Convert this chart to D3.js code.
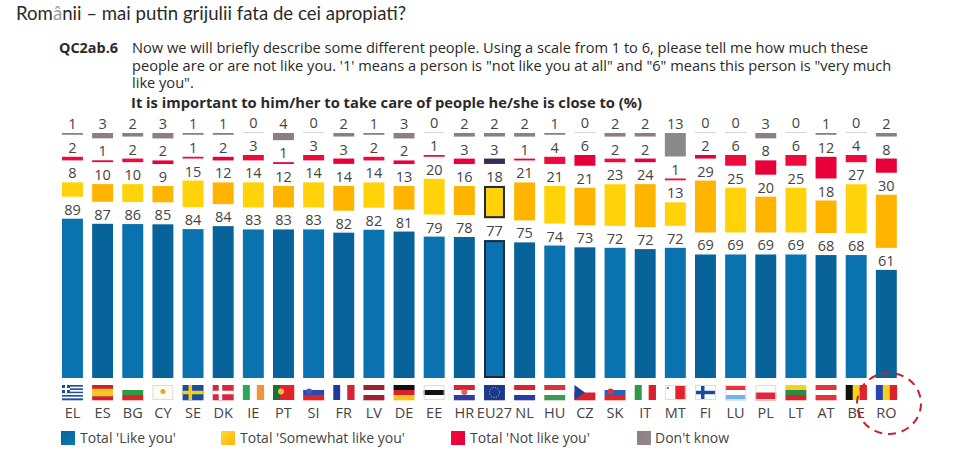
<!DOCTYPE html>
<html><head><meta charset="utf-8">
<script src="https://d3js.org/d3.v7.min.js"></script>
<style>
html,body{margin:0;padding:0;background:#fff;overflow:hidden}
svg{display:block}
.t{font-family:"Open Sans",sans-serif;fill:#2a2a2a}
.v{font-family:"Open Sans",sans-serif;font-size:14.5px;fill:#444;text-anchor:middle}
.c{font-family:"Open Sans",sans-serif;font-size:14.5px;fill:#444;text-anchor:middle}
.l{font-family:"Open Sans",sans-serif;font-size:14px;fill:#444}
</style></head><body>
<svg id="c" width="955" height="459"></svg>
<script>
const countries=["EL","ES","BG","CY","SE","DK","IE","PT","SI","FR","LV","DE","EE","HR","EU27","NL","HU","CZ","SK","IT","MT","FI","LU","PL","LT","AT","BE","RO"];
const likeYou=[89,87,86,85,84,84,83,83,83,82,82,81,79,78,77,75,74,73,72,72,72,69,69,69,69,68,68,61];
const somewhat=[8,10,10,9,15,12,14,12,14,14,14,13,20,16,18,21,21,21,23,24,13,29,25,20,25,18,27,30];
const notLike=[2,1,2,2,1,2,3,1,3,3,2,2,1,3,3,1,4,6,2,2,1,2,6,8,6,12,4,8];
const dontKnow=[1,3,2,3,1,1,0,4,0,2,1,3,0,2,2,2,1,0,2,2,13,0,0,3,0,1,0,2];
const legendLabels=["Total 'Like you'","Total 'Somewhat like you'","Total 'Not like you'","Don't know"];
const questionLines=["Now we will briefly describe some different people. Using a scale from 1 to 6, please tell me how much these","people are or are not like you. '1' means a person is \"not like you at all\" and \"6\" means this person is \"very much","like you\"."];
const flags={
 EL:{h:["#1c4fa0","#fff","#1c4fa0","#fff","#1c4fa0","#fff","#1c4fa0","#fff","#1c4fa0"],canton:["#1c4fa0","#fff"]},
 ES:{h:["#d0202a","#f7c51e","#f7c51e","#d0202a"]},
 BG:{h:["#fff","#2f9b47","#d6262b"]},
 CY:{h:["#fbfbf4"],dot:"#e0a830"},
 SE:{h:["#1a4ea0"],cross:"#f7ce12"},
 DK:{h:["#d5273d"],cross:"#fff"},
 IE:{v:["#2ea55a","#fff","#f4943a"]},
 PT:{v:["#17733a","#e2232a","#e2232a"],dot:"#e8c040"},
 SI:{h:["#fff","#2a49a8","#e2232a"],dot:"#3a5cc0"},
 FR:{v:["#2039a0","#fff","#d9232e"]},
 LV:{h:["#9e2035","#fff","#9e2035"]},
 DE:{h:["#111","#d8232a","#f6c21c"]},
 EE:{h:["#fff","#111","#fff"]},
 HR:{h:["#d8232e","#fff","#2c3f9e"],dot:"#d8606e"},
 EU27:{h:["#1b3a8c"],ring:"#e8c840"},
 NL:{h:["#d8232e","#fff","#2939a5"]},
 HU:{h:["#d8333a","#fff","#3c9a50"]},
 CZ:{h:["#fff","#d8232e"],tri:"#1e3f96"},
 SK:{h:["#fff","#2e5fb8","#e2232a"],dot:"#d8323a"},
 IT:{v:["#2c9a48","#fff","#d8232e"]},
 MT:{v:["#fff","#e8202a"],mini:"#777"},
 FI:{h:["#fff"],cross:"#1c4aa0"},
 LU:{h:["#e2333e","#fff","#72b4e8"]},
 PL:{h:["#fff","#e2233a"]},
 LT:{h:["#f2d21e","#2c8a48","#d8232e"]},
 AT:{h:["#e2333e","#fff","#e2333e"]},
 BE:{v:["#111","#f6d21c","#e8202a"]},
 RO:{v:["#2346b0","#f8d018","#e0202a"]}
};
const colours={
 like:["#0a72ae","#07639a"],
 some:["#ffd20a","#ffb400"],
 not:["#ee0a3c","#e8003a"],
 dk:"#8b7f85",
};
const svg=d3.select("#c");
const defs=svg.append("defs");
[["gLike","#07639a","#0a78b4"],["gSome","#ffd838","#ffb400"],["gNot","#ee0a3c","#e8003a"],["gDk","#8b7f85","#95898f"]].forEach(([id,a,b])=>{
 const g=defs.append("linearGradient").attr("id",id).attr("x1",0).attr("y1",0).attr("x2",1).attr("y2",1);
 g.append("stop").attr("offset","0%").attr("stop-color",a);
 g.append("stop").attr("offset","100%").attr("stop-color",b);
});
const x=d3.scaleBand().domain(countries).range([57.4,901.4]).paddingInner(0.305).paddingOuter(0.1525);
const y=d3.scaleLinear().domain([0,100]).range([0,179]);
const base=378,gap=22;
const keys=[likeYou,somewhat,notLike,dontKnow];
const segs=[];
countries.forEach((c,i)=>{
 let cur=base;
 const total=d3.sum(keys,a=>a[i]);
 keys.forEach((arr,k)=>{
  const v=arr[i],h=Math.max(y(v*100/total),1);
  const fill=k===0?colours.like[i%2]:k===1?colours.some[i%2]:k===2?colours.not[i%2]:(c==="MT"?"#8a8a8a":(v===0?"#d8d4d6":colours.dk));
  segs.push({c,i,k,v,top:cur-h,h,fill});
  cur=cur-h-gap;
 });
});
svg.append("g").selectAll("rect").data(segs).join("rect")
 .attr("x",d=>x(d.c)).attr("width",x.bandwidth()).attr("y",d=>d.top).attr("height",d=>d.h)
 .attr("fill",d=>d.c==="EU27"&&d.k===2?"#3a2a5a":d.fill);
svg.append("g").selectAll("rect").data(segs.filter(d=>d.c==="EU27"&&d.k<2)).join("rect")
 .attr("x",d=>x(d.c)+1).attr("width",x.bandwidth()-2).attr("y",d=>d.top+1).attr("height",d=>d.h-2)
 .attr("fill","none").attr("stroke","#1c2a44").attr("stroke-width",2);
svg.append("g").selectAll("text").data(segs).join("text").attr("class","v")
 .attr("x",d=>x(d.c)+x.bandwidth()/2).attr("y",d=>d.top-4).text(d=>d.v);
// country labels
svg.append("g").selectAll("text").data(countries).join("text").attr("class","c")
 .attr("x",d=>x(d)+x.bandwidth()/2).attr("y",417.5).text(d=>d);
// flags
const fy=385,fh=15;
countries.forEach(c=>{
 const f=flags[c],g=svg.append("g").attr("transform",`translate(${x(c)},${fy})`),w=x.bandwidth();
 if(f.h){const s=d3.scaleBand().domain(d3.range(f.h.length)).range([0,fh]);
  f.h.forEach((col,i)=>g.append("rect").attr("x",0).attr("y",s(i)).attr("width",w).attr("height",s.bandwidth()+.3).attr("fill",col));}
 if(f.v){const s=d3.scaleBand().domain(d3.range(f.v.length)).range([0,w]);
  f.v.forEach((col,i)=>g.append("rect").attr("x",s(i)).attr("y",0).attr("width",s.bandwidth()+.3).attr("height",fh).attr("fill",col));}
 if(f.cross){g.append("rect").attr("x",6).attr("y",0).attr("width",3.5).attr("height",fh).attr("fill",f.cross);
  g.append("rect").attr("x",0).attr("y",5.75).attr("width",w).attr("height",3.5).attr("fill",f.cross);}
 if(f.canton){g.append("rect").attr("width",8).attr("height",8).attr("fill",f.canton[0]);
  g.append("rect").attr("x",3).attr("width",2).attr("height",8).attr("fill",f.canton[1]);
  g.append("rect").attr("y",3).attr("width",8).attr("height",2).attr("fill",f.canton[1]);}
 if(f.tri){g.append("path").attr("d",`M0,0L${w/2},${fh/2}L0,${fh}Z`).attr("fill",f.tri);}
 if(f.dot){g.append("circle").attr("cx",c==="CY"||c==="HR"?w/2:c==="PT"?8:6).attr("cy",c==="HR"?7:6.5).attr("r",c==="CY"?2.5:3).attr("fill",f.dot);}
 if(f.ring){g.append("circle").attr("cx",w/2).attr("cy",fh/2).attr("r",5).attr("fill","none").attr("stroke",f.ring).attr("stroke-width",1).attr("stroke-dasharray","1 1.6");}
 if(f.mini){g.append("rect").attr("x",2).attr("y",2).attr("width",2).attr("height",2).attr("fill",f.mini);}
 if(["CY","EE","FI","PL","MT","LU"].includes(c)){g.append("rect").attr("x",.5).attr("y",.5).attr("width",w-1).attr("height",fh-1).attr("fill","none").attr("stroke","#ddd");}
});
// title
const title=svg.append("text").attr("class","t").attr("x",16).attr("y",20).attr("font-size",18.6).style("font-family","Lato,sans-serif");
title.append("tspan").text("Rom");title.append("tspan").attr("fill","#999").text("â");title.append("tspan").text("nii – mai putin grijulii fata de cei apropiati?");
// question
svg.append("text").attr("class","t").attr("x",59).attr("y",53).attr("font-size",14.4).attr("font-weight",700).text("QC2ab.6");
svg.append("g").selectAll("text").data(questionLines).join("text").attr("class","t")
 .attr("x",132).attr("y",(d,i)=>53+i*17.7).attr("font-size",14.62).text(d=>d);
svg.append("text").attr("class","t").attr("x",131).attr("y",108).attr("font-size",14.75).attr("font-weight",700).text("It is important to him/her to take care of people he/she is close to  (%)");
// legend
const lx=[61,221,451,637],lc=["url(#gLike)","url(#gSome)","url(#gNot)","url(#gDk)"],tx=[80,240,470,655];
const lg=svg.append("g");
legendLabels.forEach((t,i)=>{
 lg.append("rect").attr("x",lx[i]).attr("y",431).attr("width",14).attr("height",14).attr("fill",lc[i]);
 lg.append("text").attr("class","l").attr("x",tx[i]).attr("y",443).text(t);
});
// highlight
svg.append("ellipse").attr("cx",889).attr("cy",403.5).attr("rx",32).attr("ry",30.5).attr("fill","none").attr("stroke","#c8202e").attr("stroke-width",2).attr("stroke-dasharray","8 6");
</script></body></html>
